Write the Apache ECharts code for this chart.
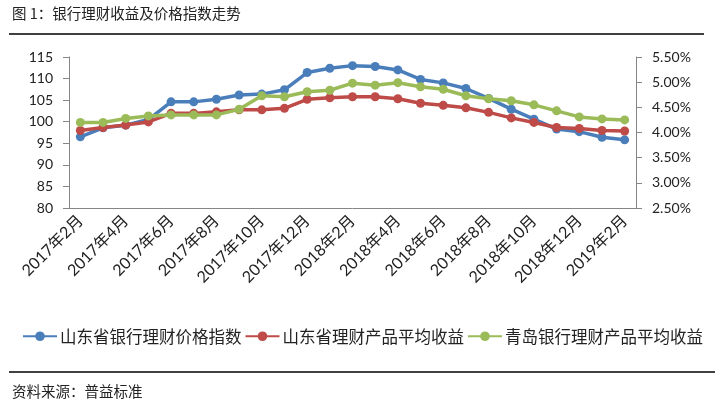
<!DOCTYPE html>
<html>
<head>
<meta charset="utf-8">
<script src="https://cdn.jsdelivr.net/npm/echarts@6/dist/echarts.min.js"></script>
<style>
html,body{margin:0;padding:0;background:#fff;}
#c{width:724px;height:408px;}
</style>
</head>
<body>
<div id="c"></div>
<script>
var categories = ['2017年2月','2017年3月','2017年4月','2017年5月','2017年6月','2017年7月','2017年8月','2017年9月','2017年10月','2017年11月','2017年12月','2018年1月','2018年2月','2018年3月','2018年4月','2018年5月','2018年6月','2018年7月','2018年8月','2018年9月','2018年10月','2018年11月','2018年12月','2019年1月','2019年2月'];
var priceIndex = [96.5,98.6,99.2,100.5,104.6,104.6,105.2,106.2,106.4,107.4,111.4,112.4,113.0,112.8,112.0,109.8,109.0,107.7,105.4,102.9,100.6,98.3,97.7,96.4,95.8];
var sdYield = [4.04,4.10,4.15,4.21,4.38,4.38,4.41,4.45,4.45,4.48,4.66,4.69,4.71,4.71,4.67,4.58,4.54,4.49,4.40,4.29,4.20,4.10,4.08,4.04,4.03];
var qdYield = [4.20,4.20,4.28,4.33,4.35,4.35,4.35,4.46,4.73,4.71,4.81,4.84,4.98,4.94,4.99,4.91,4.86,4.73,4.67,4.63,4.55,4.43,4.31,4.27,4.25];
var seriesNames = ['山东省银行理财价格指数','山东省理财产品平均收益','青岛银行理财产品平均收益'];
var titleText = '图 1：银行理财收益及价格指数走势';
var sourceText = '资料来源：普益标准';

var chart = echarts.init(document.getElementById('c'));
var latin = 'Lato, "Noto Sans CJK SC", sans-serif';
var cjk = '"Noto Sans CJK SC", sans-serif';
var axisColor = '#868686';
function mk(name, data, color, yIdx, z) {
  return {
    name: name, type: 'line', data: data, yAxisIndex: yIdx, z: z,
    symbol: 'circle', symbolSize: 9,
    lineStyle: {width: 3.5, color: color},
    itemStyle: {color: color},
    animation: false
  };
}
chart.setOption({
  animation: false,
  graphic: [
    {type: 'text', left: 12, top: 6, style: {text: titleText, font: '14.5px ' + cjk, fill: '#222'}},
    {type: 'line', shape: {x1: 9, y1: 34, x2: 704, y2: 34}, style: {stroke: '#000', lineWidth: 1.3}},
    {type: 'line', shape: {x1: 9, y1: 372, x2: 715, y2: 372}, style: {stroke: '#000', lineWidth: 1.3}},
    {type: 'text', left: 12, top: 384, style: {text: sourceText, font: '14.5px ' + cjk, fill: '#222'}}
  ],
  grid: {left: 69, right: 88, top: 57, bottom: 200, containLabel: false},
  legend: {
    data: seriesNames, top: 323, left: 17, itemGap: 3, itemWidth: 34, itemHeight: 12,
    textStyle: {fontSize: 16.5, fontFamily: cjk, color: '#222', padding: [0,0,0,-2]}
  },
  xAxis: {
    type: 'category', data: categories, boundaryGap: true,
    axisLine: {lineStyle: {color: axisColor, width: 1}},
    axisTick: {interval: 1, length: 5, lineStyle: {color: axisColor}},
    axisLabel: {interval: 1, rotate: 45, fontSize: 16, fontFamily: latin, color: '#222', margin: 10}
  },
  yAxis: [
    {type: 'value', min: 80, max: 115, interval: 5, position: 'left',
     splitLine: {show: false},
     axisLine: {show: true, lineStyle: {color: axisColor}},
     axisTick: {show: true, length: 6, lineStyle: {color: axisColor}},
     axisLabel: {fontSize: 14, fontFamily: latin, color: '#222', margin: 16}},
    {type: 'value', min: 2.5, max: 5.5, interval: 0.5, position: 'right',
     splitLine: {show: false},
     axisLine: {show: true, lineStyle: {color: axisColor}},
     axisTick: {show: true, length: 6, lineStyle: {color: axisColor}},
     axisLabel: {fontSize: 14, fontFamily: latin, color: '#222', margin: 16,
       formatter: function (v) { return v.toFixed(2) + '%'; }}}
  ],
  series: [
    mk(seriesNames[0], priceIndex, '#4A7EBB', 0, 2),
    mk(seriesNames[1], sdYield, '#BE4B48', 1, 3),
    mk(seriesNames[2], qdYield, '#9BBB59', 1, 4)
  ]
});
</script>
</body>
</html>
